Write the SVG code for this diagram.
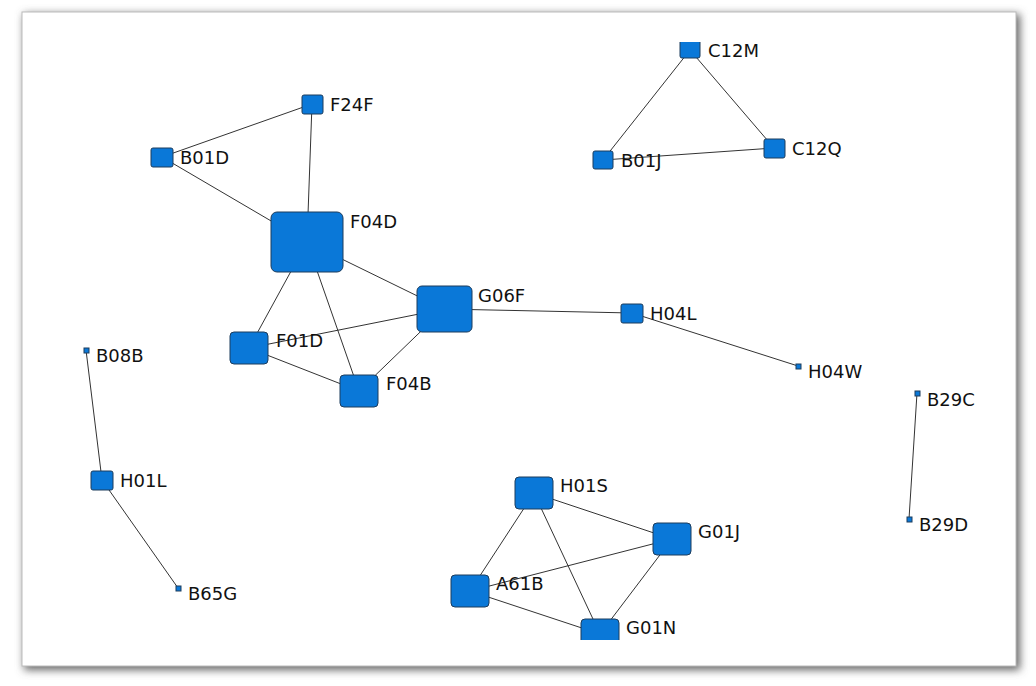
<svg xmlns="http://www.w3.org/2000/svg" width="1036" height="686" viewBox="0 0 1036 686">
<defs>
<filter id="sh" x="-5%" y="-5%" width="110%" height="110%"><feGaussianBlur stdDeviation="4"/></filter>
<clipPath id="cp"><rect x="22" y="42" width="996" height="598"/></clipPath>
<style>
.n{fill:#0a78d8;stroke:#1d3c5c;stroke-width:1}
.e{stroke:#333;stroke-width:1;fill:none}
text{font-family:"DejaVu Sans",Verdana,sans-serif;font-size:18px;fill:#111}
</style>
</defs>
<rect x="0" y="0" width="1036" height="686" fill="#fff"/>
<rect x="24" y="14" width="996" height="656" fill="#666" filter="url(#sh)"/>
<rect x="22" y="12" width="994" height="654" fill="#fff" stroke="#bbb"/>
<g clip-path="url(#cp)">
<g id="connectors" class="e">
<line x1="690" y1="50" x2="603" y2="160"/><line x1="690" y1="50" x2="774" y2="148"/><line x1="603" y1="160" x2="774" y2="148"/>
<line x1="312" y1="104" x2="162" y2="157"/><line x1="312" y1="104" x2="307" y2="242"/><line x1="162" y1="157" x2="307" y2="242"/>
<line x1="307" y1="242" x2="444" y2="309"/><line x1="307" y1="242" x2="249" y2="348"/><line x1="307" y1="242" x2="359" y2="391"/>
<line x1="249" y1="348" x2="444" y2="309"/><line x1="249" y1="348" x2="359" y2="391"/><line x1="359" y1="391" x2="444" y2="309"/>
<line x1="444" y1="309" x2="632" y2="313"/><line x1="632" y1="313" x2="798" y2="366"/>
<line x1="86" y1="350" x2="102" y2="480"/><line x1="102" y1="480" x2="178" y2="588"/><line x1="917" y1="393" x2="909" y2="519"/>
<line x1="534" y1="493" x2="672" y2="539"/><line x1="534" y1="493" x2="470" y2="591"/><line x1="534" y1="493" x2="600" y2="634"/>
<line x1="470" y1="591" x2="672" y2="539"/><line x1="470" y1="591" x2="600" y2="634"/><line x1="600" y1="634" x2="672" y2="539"/>
</g>
<g id="C12M"><rect class="n" x="680" y="40" width="20" height="18" rx="2"/><text x="708" y="57">C12M</text></g>
<g id="B01J"><rect class="n" x="593" y="151" width="20" height="18" rx="2"/><text x="621" y="167">B01J</text></g>
<g id="C12Q"><rect class="n" x="764" y="139" width="21" height="19" rx="2"/><text x="792" y="155">C12Q</text></g>
<g id="F24F"><rect class="n" x="302" y="95" width="21" height="19" rx="2"/><text x="330" y="111">F24F</text></g>
<g id="B01D"><rect class="n" x="151" y="148" width="22" height="19" rx="2"/><text x="180" y="164">B01D</text></g>
<g id="F04D"><rect class="n" x="271" y="212" width="72" height="60" rx="6"/><text x="350" y="228">F04D</text></g>
<g id="G06F"><rect class="n" x="417" y="286" width="55" height="46" rx="5"/><text x="478" y="302">G06F</text></g>
<g id="H04L"><rect class="n" x="621" y="304" width="22" height="19" rx="2"/><text x="650" y="320">H04L</text></g>
<g id="H04W"><rect class="n" x="796" y="364" width="5" height="5"/><text x="808" y="378">H04W</text></g>
<g id="F01D"><rect class="n" x="230" y="332" width="38" height="32" rx="4"/><text x="276" y="347">F01D</text></g>
<g id="F04B"><rect class="n" x="340" y="375" width="38" height="32" rx="4"/><text x="386" y="390">F04B</text></g>
<g id="B08B"><rect class="n" x="84" y="348" width="5" height="5"/><text x="96" y="362">B08B</text></g>
<g id="H01L"><rect class="n" x="91" y="471" width="22" height="19" rx="2"/><text x="120" y="487">H01L</text></g>
<g id="B65G"><rect class="n" x="176" y="586" width="5" height="5"/><text x="188" y="600">B65G</text></g>
<g id="B29C"><rect class="n" x="915" y="391" width="5" height="5"/><text x="927" y="406">B29C</text></g>
<g id="B29D"><rect class="n" x="907" y="517" width="5" height="5"/><text x="919" y="531">B29D</text></g>
<g id="H01S"><rect class="n" x="515" y="477" width="38" height="32" rx="4"/><text x="560" y="492">H01S</text></g>
<g id="G01J"><rect class="n" x="653" y="523" width="38" height="32" rx="4"/><text x="698" y="538">G01J</text></g>
<g id="A61B"><rect class="n" x="451" y="575" width="38" height="32" rx="4"/><text x="496" y="590">A61B</text></g>
<g id="G01N"><rect class="n" x="581" y="619" width="38" height="32" rx="4"/><text x="626" y="634">G01N</text></g>
</g>
</svg>
